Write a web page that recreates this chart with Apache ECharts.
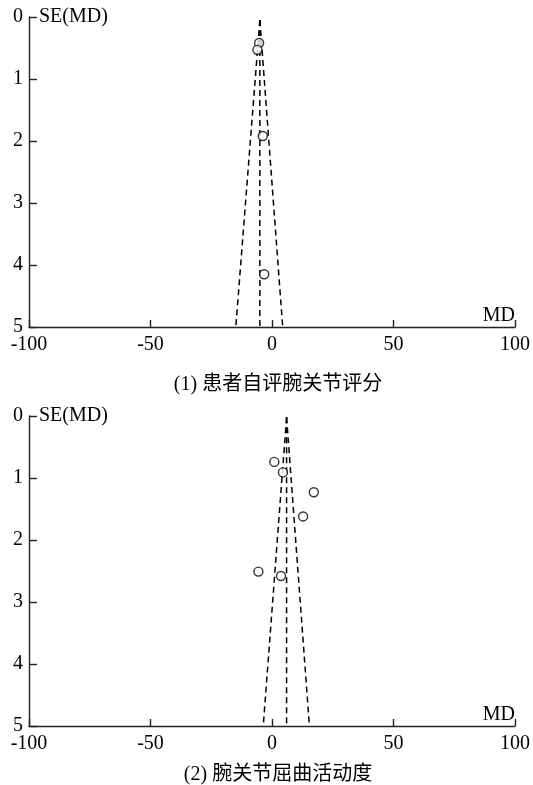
<!DOCTYPE html>
<html>
<head>
<meta charset="UTF-8">
<title>漏斗图</title>
<script src="https://cdn.jsdelivr.net/npm/echarts@6/dist/echarts.min.js"></script>
<style>
  * {margin: 0; padding: 0;}
  body {background: #fff;}
  #chart {width: 533px; height: 785px;}
</style>
</head>
<body>
<div id="chart"></div>
<script>
// x轴刻度与标题
var xTicks = [-100, -50, 0, 50, 100];
var titles = ['(1) 患者自评腕关节评分', '(2) 腕关节屈曲活动度'];

// (1) 患者自评腕关节评分: [MD, SE(MD)]
var studies1 = [[-5.3, 0.42], [-6.0, 0.53], [-3.8, 1.92], [-3.2, 4.15]];
// 漏斗线: 顶点 -> 底部 (SE = 5)
var funnelLeft1 = [[-5.0, 0.05], [-14.9, 5]];
var funnelMid1 = [[-5.0, 0.05], [-5.0, 5]];
var funnelRight1 = [[-5.0, 0.05], [4.4, 5]];

// (2) 腕关节屈曲活动度
var studies2 = [[0.95, 0.74], [4.5, 0.91], [17.2, 1.23], [12.8, 1.62], [-5.6, 2.51], [3.7, 2.58]];
var funnelLeft2 = [[6.0, 0.02], [-3.6, 5]];
var funnelMid2 = [[6.0, 0.02], [6.0, 5]];
var funnelRight2 = [[6.0, 0.02], [15.4, 5]];

var serif = '"Liberation Serif", "Times New Roman", "Noto Sans CJK SC", serif';
var axisColor = '#222';
var fs = 20;

function xAxisOf(idx) {
  return {
    gridIndex: idx,
    type: 'value',
    min: xTicks[0],
    max: xTicks[xTicks.length - 1],
    interval: 50,
    name: 'MD',
    nameLocation: 'end',
    nameGap: 0,
    nameTextStyle: {
      fontFamily: serif, fontSize: fs, color: '#000',
      align: 'right', verticalAlign: 'bottom', padding: [0, 0, 1, 0]
    },
    axisLine: {onZero: false, lineStyle: {color: axisColor, width: 1.4}},
    axisTick: {inside: true, length: 7, lineStyle: {color: axisColor, width: 1.4}},
    axisLabel: {fontFamily: serif, fontSize: fs, color: '#000', margin: 8},
    splitLine: {show: false}
  };
}

function yAxisOf(idx) {
  return {
    gridIndex: idx,
    type: 'value',
    inverse: true,
    min: 0,
    max: 5,
    interval: 1,
    name: 'SE(MD)',
    nameLocation: 'start',
    nameGap: 0,
    nameTextStyle: {
      fontFamily: serif, fontSize: fs, color: '#000',
      align: 'left', verticalAlign: 'middle', padding: [0, 0, 0, 10]
    },
    axisLine: {show: true, onZero: false, lineStyle: {color: axisColor, width: 1.4}},
    axisTick: {show: true, inside: true, length: 8, lineStyle: {color: axisColor, width: 1.4}},
    axisLabel: {fontFamily: serif, fontSize: fs, color: '#000', margin: 6},
    splitLine: {show: false}
  };
}

function dashed(data, idx) {
  return {
    type: 'line',
    xAxisIndex: idx,
    yAxisIndex: idx,
    data: data,
    symbol: 'none',
    silent: true,
    lineStyle: {color: '#000', width: 1.5, type: [6, 4]}
  };
}

function points(data, idx) {
  return {
    type: 'scatter',
    xAxisIndex: idx,
    yAxisIndex: idx,
    data: data,
    symbol: 'circle',
    symbolSize: 9,
    itemStyle: {color: '#fff', borderColor: '#000', borderWidth: 1.4},
    z: 5
  };
}

var chart = echarts.init(document.getElementById('chart'));

var option = {
  backgroundColor: '#fff',
  animation: false,
  title: [
    {text: titles[0], left: 273, top: 370, textAlign: 'center',
     textStyle: {fontFamily: serif, fontSize: fs, fontWeight: 'normal', color: '#000'}},
    {text: titles[1], left: 273, top: 760, textAlign: 'center',
     textStyle: {fontFamily: serif, fontSize: fs, fontWeight: 'normal', color: '#000'}}
  ],
  grid: [
    {left: 29, right: 16, top: 17, height: 310},
    {left: 29, right: 16, top: 416, height: 310}
  ],
  xAxis: [xAxisOf(0), xAxisOf(1)],
  yAxis: [yAxisOf(0), yAxisOf(1)],
  series: [
    dashed(funnelLeft1, 0), dashed(funnelMid1, 0), dashed(funnelRight1, 0), points(studies1, 0),
    dashed(funnelLeft2, 1), dashed(funnelMid2, 1), dashed(funnelRight2, 1), points(studies2, 1)
  ]
};

chart.setOption(option);
</script>
</body>
</html>
